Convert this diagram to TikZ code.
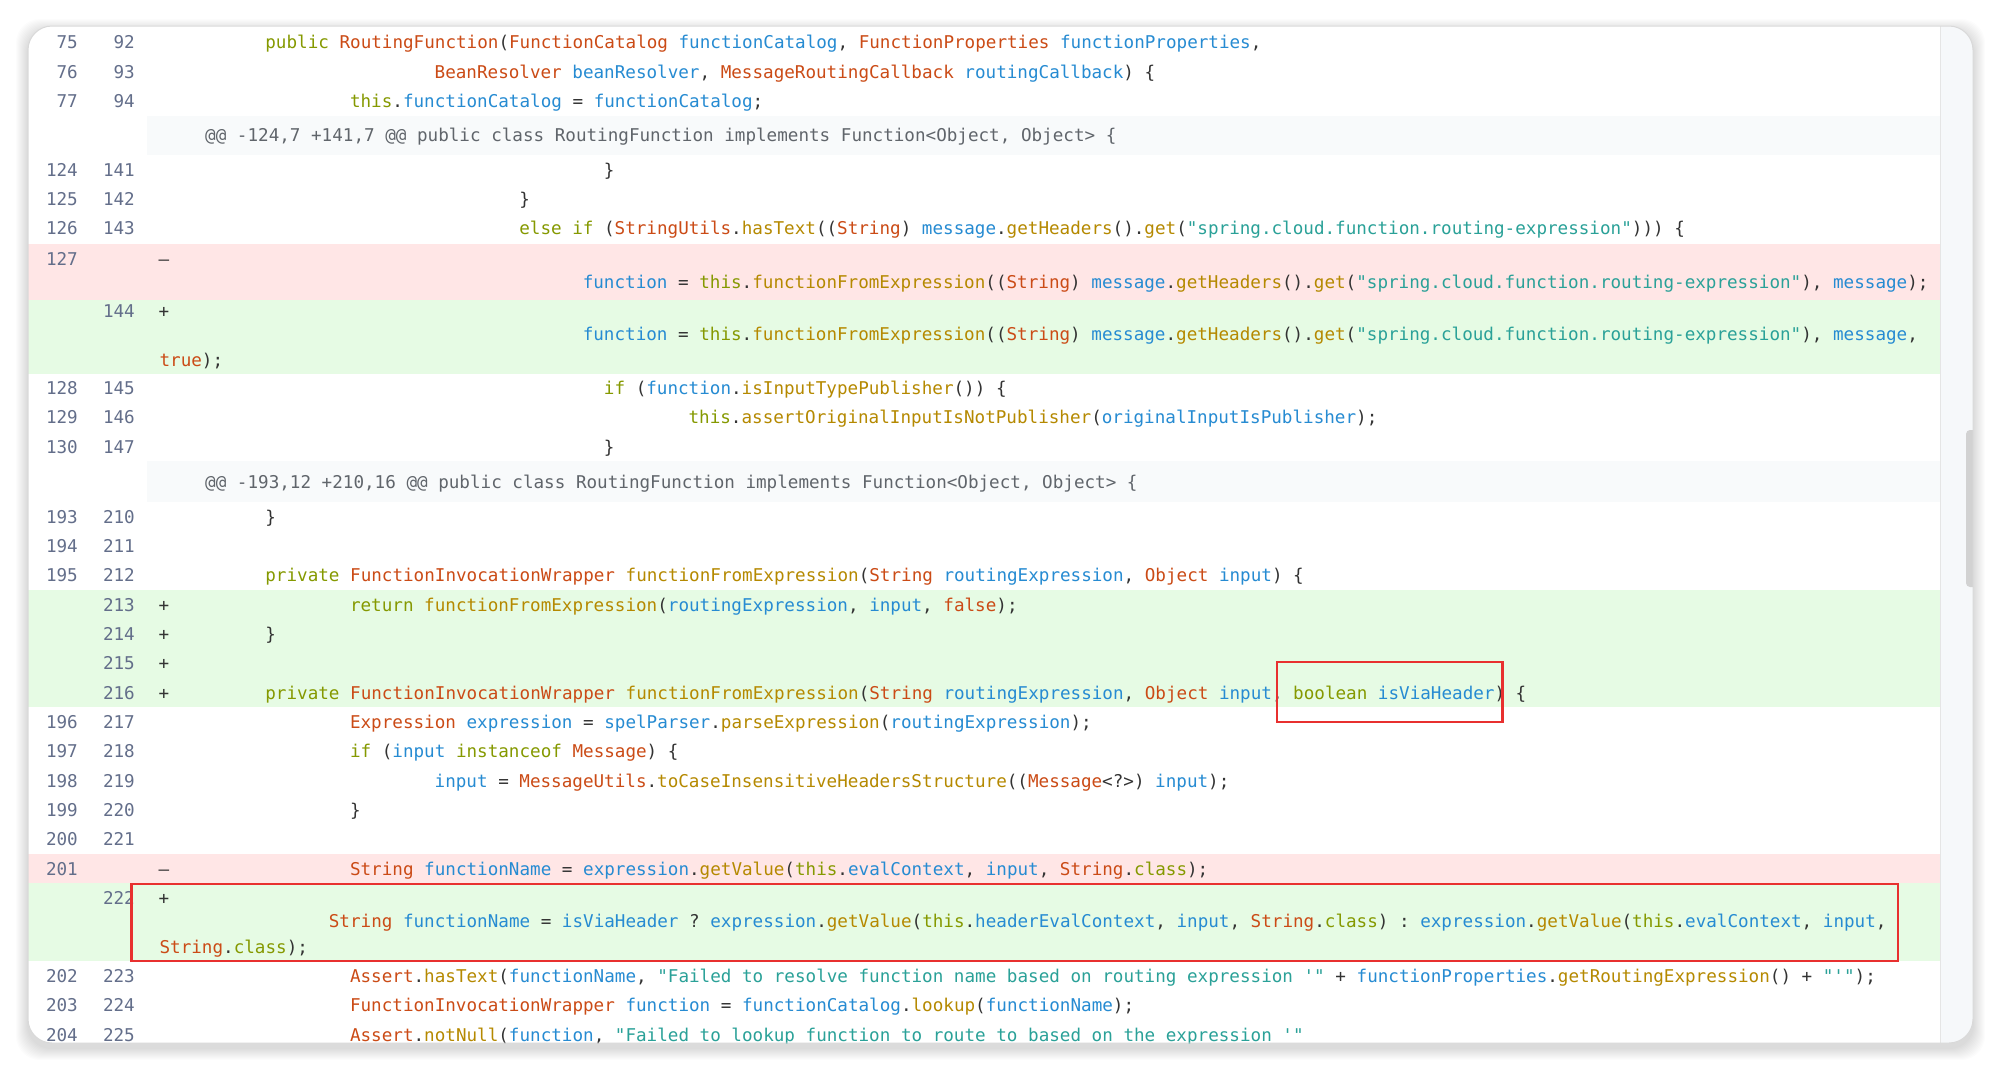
\documentclass[tikz,border=0pt]{standalone}
\usepackage{fontspec}
\setmonofont{DejaVu Sans Mono}
\usepackage{xcolor}
\usepackage{tikz}

\definecolor{ckw}{HTML}{859900}
\definecolor{cty}{HTML}{CB4B16}
\definecolor{cvr}{HTML}{268BD2}
\definecolor{cfn}{HTML}{B58900}
\definecolor{cst}{HTML}{2AA198}
\definecolor{cpl}{HTML}{333333}
\definecolor{cln}{HTML}{636E8A}
\definecolor{chunk}{HTML}{60656B}
\definecolor{delbg}{HTML}{FFE6E6}
\definecolor{addbg}{HTML}{E6FBE4}
\definecolor{hunkbg}{HTML}{F8FAFB}
\definecolor{trackbg}{HTML}{F6F8FA}
\definecolor{redline}{HTML}{E8302F}

\newcommand{\codefont}{\fontsize{17.6}{20}\selectfont\ttfamily}
\newcommand{\Kw}[1]{\textcolor{ckw}{#1}}
\newcommand{\Ty}[1]{\textcolor{cty}{#1}}
\newcommand{\Vr}[1]{\textcolor{cvr}{#1}}
\newcommand{\Fn}[1]{\textcolor{cfn}{#1}}
\newcommand{\St}[1]{\textcolor{cst}{#1}}
\def\colx{159.4}
\def\chw{10.58}

\begin{document}
\begin{tikzpicture}[
    x=1pt, y=-1pt,
    code/.style={anchor=mid west, inner sep=0pt, font=\codefont, text=cpl, yshift=-4.5pt},
    lnum/.style={anchor=mid east, inner sep=0pt, font=\codefont, text=cln, yshift=-4.5pt},
    sign/.style={anchor=mid, inner sep=0pt, font=\codefont, text=cpl, yshift=-4.5pt},
    hunk/.style={anchor=mid west, inner sep=0pt, font=\codefont, text=chunk, yshift=-4.5pt},
    redbox/.style={draw=redline, line width=2.2pt},
    frame/.style={rounded corners=24pt}
]
    \useasboundingbox (0,0) rectangle (2000,1071);
    \fill[white] (0,0) rectangle (2000,1071);

    % soft shadow round the window
    \foreach \s in {1,...,12}
        \fill[black, opacity=0.012, frame] (28-\s,26-\s+5) rectangle (1973+\s,1043+\s+5);
    \fill[white, frame] (28,26) rectangle (1973,1043);

    \begin{scope}
        \clip[frame] (28,26) rectangle (1973,1043);
        % row backgrounds
        \fill[hunkbg] (147,115.5) rectangle (1940,154.9);
        \fill[hunkbg] (147,461) rectangle (1940,502);
        \fill[delbg] (28,243.6) rectangle (1940,299.7);
        \fill[addbg] (28,299.7) rectangle (1940,373.7);
        \fill[addbg] (28,590) rectangle (1940,707.3);
        \fill[delbg] (28,854) rectangle (1940,883.3);
        \fill[addbg] (28,883.3) rectangle (1940,961.3);
        % scroll track
        \fill[trackbg] (1940,26) rectangle (1973,1043);
        \draw[gray!20, line width=1pt] (1940,26) -- (1940,1043);
        \fill[gray!35, rounded corners=4pt] (1966,430) rectangle (1978,587);

        % line numbers
        \foreach \a/\b/\y in {75/92/42, 76/93/71.4, 77/94/100.8,
            124/141/169.6, 125/142/199, 126/143/228.3,
            128/145/387.8, 129/146/417, 130/147/446.4,
            193/210/516.6, 194/211/546, 195/212/575,
            196/217/722, 197/218/751.3, 198/219/780.6, 199/220/810, 200/221/839.3,
            202/223/975.8, 203/224/1005, 204/225/1034.4} {
            \node[lnum] at (78,\y) {\a};
            \node[lnum] at (135,\y) {\b};
        }
        \foreach \a/\y in {127/259, 201/868.6}
            \node[lnum] at (78,\y) {\a};
        \foreach \b/\y in {144/311, 213/604.6, 214/634, 215/663, 216/692.6, 222/898}
            \node[lnum] at (135,\y) {\b};

        % change signs
        \foreach \y in {259, 868.6}
            \node[sign] at (164,\y) {–};
        \foreach \y in {311, 604.6, 634, 663, 692.6, 898}
            \node[sign] at (164,\y) {+};

        % hunk headers
        \node[hunk] (h1) at (205,135.2) {@@ -124,7 +141,7 @@ public class RoutingFunction implements Function<Object, Object> \{};
        \node[hunk] (h2) at (205,481.5) {@@ -193,12 +210,16 @@ public class RoutingFunction implements Function<Object, Object> \{};

        % code lines
        \node[code] (l92) at ({\colx+10*\chw},42) {\Kw{public} \Ty{RoutingFunction}(\Ty{FunctionCatalog} \Vr{functionCatalog}, \Ty{FunctionProperties} \Vr{functionProperties},};
        \node[code] (l93) at ({\colx+26*\chw},71.4) {\Ty{BeanResolver} \Vr{beanResolver}, \Ty{MessageRoutingCallback} \Vr{routingCallback}) \{};
        \node[code] (l94) at ({\colx+18*\chw},100.8) {\Kw{this}.\Vr{functionCatalog} = \Vr{functionCatalog};};
        \node[code] (l141) at ({\colx+42*\chw},169.6) {\}};
        \node[code] (l142) at ({\colx+34*\chw},199) {\}};
        \node[code] (l143) at ({\colx+34*\chw},228.3) {\Kw{else if} (\Ty{StringUtils}.\Fn{hasText}((\Ty{String}) \Vr{message}.\Fn{getHeaders}().\Fn{get}(\St{"spring.cloud.function.routing-expression"}))) \{};
        \node[code] (l127) at ({\colx+40*\chw},282) {\Vr{function} = \Kw{this}.\Fn{functionFromExpression}((\Ty{String}) \Vr{message}.\Fn{getHeaders}().\Fn{get}(\St{"spring.cloud.function.routing-expression"}), \Vr{message});};
        \node[code] (l144) at ({\colx+40*\chw},334) {\Vr{function} = \Kw{this}.\Fn{functionFromExpression}((\Ty{String}) \Vr{message}.\Fn{getHeaders}().\Fn{get}(\St{"spring.cloud.function.routing-expression"}), \Vr{message},};
        \node[code] (l144b) at (\colx,359.7) {\Ty{true});};
        \node[code] (l145) at ({\colx+42*\chw},387.8) {\Kw{if} (\Vr{function}.\Fn{isInputTypePublisher}()) \{};
        \node[code] (l146) at ({\colx+50*\chw},417) {\Kw{this}.\Fn{assertOriginalInputIsNotPublisher}(\Vr{originalInputIsPublisher});};
        \node[code] (l147) at ({\colx+42*\chw},446.4) {\}};
        \node[code] (l210) at ({\colx+10*\chw},516.6) {\}};
        \node[code] (l212) at ({\colx+10*\chw},575) {\Kw{private} \Ty{FunctionInvocationWrapper} \Fn{functionFromExpression}(\Ty{String} \Vr{routingExpression}, \Ty{Object} \Vr{input}) \{};
        \node[code] (l213) at ({\colx+18*\chw},604.6) {\Kw{return} \Fn{functionFromExpression}(\Vr{routingExpression}, \Vr{input}, \Ty{false});};
        \node[code] (l214) at ({\colx+10*\chw},634) {\}};
        \node[code] (l216) at ({\colx+10*\chw},692.6) {\Kw{private} \Ty{FunctionInvocationWrapper} \Fn{functionFromExpression}(\Ty{String} \Vr{routingExpression}, \Ty{Object} \Vr{input}, \Kw{boolean} \Vr{isViaHeader}) \{};
        \node[code] (l217) at ({\colx+18*\chw},722) {\Ty{Expression} \Vr{expression} = \Vr{spelParser}.\Fn{parseExpression}(\Vr{routingExpression});};
        \node[code] (l218) at ({\colx+18*\chw},751.3) {\Kw{if} (\Vr{input} \Kw{instanceof} \Ty{Message}) \{};
        \node[code] (l219) at ({\colx+26*\chw},780.6) {\Vr{input} = \Ty{MessageUtils}.\Fn{toCaseInsensitiveHeadersStructure}((\Ty{Message}<?>) \Vr{input});};
        \node[code] (l220) at ({\colx+18*\chw},810) {\}};
        \node[code] (l201) at ({\colx+18*\chw},868.6) {\Ty{String} \Vr{functionName} = \Vr{expression}.\Fn{getValue}(\Kw{this}.\Vr{evalContext}, \Vr{input}, \Ty{String}.\Kw{class});};
        \node[code] (l222) at ({\colx+16*\chw},921) {\Ty{String} \Vr{functionName} = \Vr{isViaHeader} ? \Vr{expression}.\Fn{getValue}(\Kw{this}.\Vr{headerEvalContext}, \Vr{input}, \Ty{String}.\Kw{class}) : \Vr{expression}.\Fn{getValue}(\Kw{this}.\Vr{evalContext}, \Vr{input},};
        \node[code] (l222b) at (\colx,946.4) {\Ty{String}.\Kw{class});};
        \node[code] (l223) at ({\colx+18*\chw},975.8) {\Ty{Assert}.\Fn{hasText}(\Vr{functionName}, \St{"Failed to resolve function name based on routing expression '"} + \Vr{functionProperties}.\Fn{getRoutingExpression}() + \St{"'"});};
        \node[code] (l224) at ({\colx+18*\chw},1005) {\Ty{FunctionInvocationWrapper} \Vr{function} = \Vr{functionCatalog}.\Fn{lookup}(\Vr{functionName});};
        \node[code] (l225) at ({\colx+18*\chw},1034.4) {\Ty{Assert}.\Fn{notNull}(\Vr{function}, \St{"Failed to lookup function to route to based on the expression '"}};
    \end{scope}

    \draw[gray!30, line width=1pt, frame] (28,26) rectangle (1973,1043);

    % highlight boxes
    \draw[redbox] (1277,662) rectangle (1502.5,722);
    \draw[redbox] (131.4,884) rectangle (1898,961);
\end{tikzpicture}
\end{document}
